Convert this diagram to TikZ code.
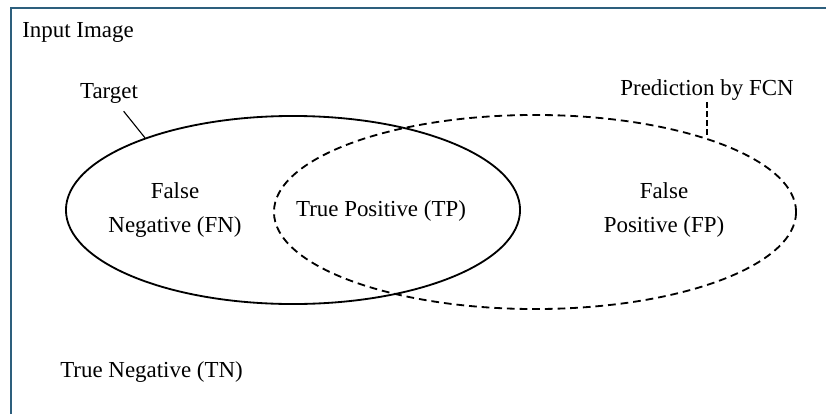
\documentclass[tikz,border=0pt]{standalone}
\usepackage{fontspec}
\setmainfont{Liberation Serif}
\usepackage{tikz}
\usetikzlibrary{shapes,positioning}
\usepackage{xcolor}
\definecolor{frameblue}{RGB}{45,95,125}
\tikzstyle{label} = [font=\fontsize{16.3}{24.2}\selectfont, align=center, inner sep=0.2cm]
\tikzstyle{region} = [ellipse, draw, line width=1.3pt, inner sep=0pt]

\begin{document}
\begin{tikzpicture}[x=0.025cm, y=-0.025cm]
\useasboundingbox (0,0) rectangle (826,414);

% Frame of the input image
\draw[line width=2pt, frameblue] (11,414) -- (11,8) -- (826,8);
\node[label, anchor=west, inner sep=0pt] (img) at (22,32) {Input Image};

% Target and prediction
\node[region, minimum width=11.35cm, minimum height=4.7cm] (tgt) at (293,210) {};
\node[region, dashed, dash pattern=on 5.5pt off 3.5pt, minimum width=13.05cm, minimum height=4.85cm] (fcn) at (535,212) {};

\node[label] (target) at (109,93) {Target};
\draw[line width=0.8pt] (target) -- (tgt.154);
\node[label, inner sep=0pt] (pred) at (707,90) {Prediction by FCN};
\draw[line width=0.8pt, dash pattern=on 4pt off 2.5pt] ([yshift=-0.3cm]pred.center) -- (pred.center |- fcn.23);

% Regions
\node[label] (fn) at (175,210) {False\\Negative (FN)};
\node[label] (tp) at (381,211) {True Positive (TP)};
\node[label] (fp) at (664,210) {False\\Positive (FP)};
\node[label, anchor=west, inner sep=0pt] (tn) at (60,372) {True Negative (TN)};
\end{tikzpicture}
\end{document}
